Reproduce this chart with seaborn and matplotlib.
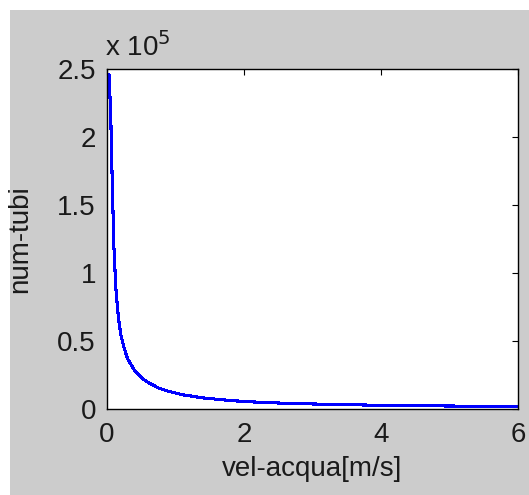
import matplotlib
matplotlib.use("Agg")
import matplotlib.pyplot as plt
import matplotlib.patches as mpatches
from matplotlib.ticker import FuncFormatter
import seaborn as sns
import pandas as pd

# values
vel_acqua = [0.03, 0.055, 0.07, 0.085, 0.10, 0.13, 0.165, 0.20, 0.25, 0.30, 0.40,
             0.50, 0.60, 0.75, 0.90, 1.10, 1.40, 1.80, 2.30, 3.00, 3.50, 4.00,
             5.00, 6.00]
num_tubi = [246000, 215000, 180000, 150000, 120000, 88000, 68000, 55000, 45000,
            37000, 28500, 23000, 19500, 15500, 13000, 10500, 8200, 6200, 4700,
            3700, 3200, 2700, 2200, 1850]
x_ticks = [0, 2, 4, 6]
y_ticks = [0, 50000, 100000, 150000, 200000, 250000]

df = pd.DataFrame({"vel": vel_acqua, "num": num_tubi})

sns.set_theme(style="white")
plt.rcParams["font.family"] = ["Liberation Sans", "DejaVu Sans"]

TXT = "#1a1a1a"
FS = 20

W, H = 529, 495
fig = plt.figure(figsize=(W / 100, H / 100), dpi=100, facecolor="white")
fig.patches.append(mpatches.Rectangle((10 / W, 0), 1, 1 - 10 / H,
                                      transform=fig.transFigure,
                                      facecolor="#cccccc", edgecolor="none", zorder=-1))

ax = fig.add_axes([107 / W, 1 - 409 / H, (518 - 107) / W, (409 - 69) / H])
ax.set_facecolor("white")
sns.lineplot(data=df, x="vel", y="num", ax=ax, color="#0000ff", linewidth=1.5,
             estimator=None, sort=False, antialiased=False)

ax.set_xlim(0, 6)
ax.set_ylim(0, 250000)
ax.set_xticks(x_ticks)
ax.set_yticks(y_ticks)
ax.yaxis.set_major_formatter(FuncFormatter(lambda v, p: f"{v / 1e5:g}"))
ax.tick_params(direction="in", length=4, width=0.8, colors="black",
               labelsize=FS, top=True, right=True, labelcolor=TXT)
ax.tick_params(axis="x", pad=9)
ax.tick_params(axis="y", pad=8)
for s in ax.spines.values():
    s.set_color("black")
    s.set_linewidth(1.0)
    s.set_visible(True)

ax.set_xlabel("vel-acqua[m/s]", fontsize=FS, color=TXT, labelpad=6)
ax.set_ylabel("num-tubi", fontsize=FS, color=TXT, labelpad=17)
ax.text(-0.005, 1.022, "x 10$^{5}$", transform=ax.transAxes, fontsize=FS,
        color=TXT, ha="left", va="bottom")

fig.savefig("out.png", dpi=100, facecolor="white")
